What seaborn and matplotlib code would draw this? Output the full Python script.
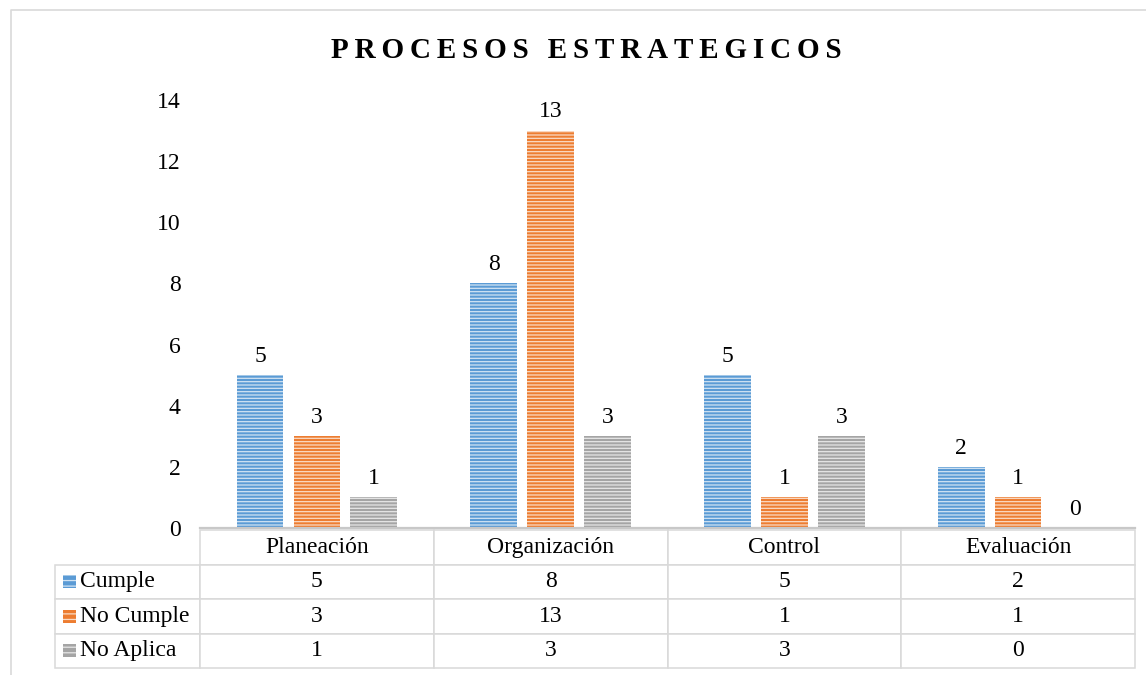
import numpy as np
import pandas as pd
import matplotlib
matplotlib.use("Agg")
import matplotlib.pyplot as plt
import seaborn as sns
from matplotlib.patches import Rectangle
from matplotlib.lines import Line2D
from matplotlib.colors import to_rgb

# ---------------- data ----------------
categories = ["Planeación", "Organización", "Control", "Evaluación"]
series = ["Cumple", "No Cumple", "No Aplica"]
cumple = [5, 8, 5, 2]
no_cumple = [3, 13, 1, 1]
no_aplica = [1, 3, 3, 0]
yticks = [0, 2, 4, 6, 8, 10, 12, 14]
title = "PROCESOS ESTRATEGICOS"
colors = ["#5B9BD5", "#ED7D31", "#A5A5A5"]

values = [cumple, no_cumple, no_aplica]
df = pd.DataFrame(
    [(c, s, v) for s, vals in zip(series, values) for c, v in zip(categories, vals)],
    columns=["Categoria", "Serie", "Valor"],
)

# ---------------- style ----------------
sns.set_theme(style="white")
plt.rcParams["font.family"] = ["Liberation Serif", "DejaVu Serif"]
plt.rcParams["hatch.linewidth"] = 0.9
plt.rcParams["text.color"] = "black"
plt.rcParams["ytick.color"] = "black"
plt.rcParams["xtick.color"] = "black"
FS = 17


def tint(c, f=0.72):
    r, g, b = to_rgb(c)
    return (r + (1 - r) * f, g + (1 - g) * f, b + (1 - b) * f)


W, H = 1146, 675
fig = plt.figure(figsize=(W / 100, H / 100), dpi=100)
L, R, T, B = 200, 1135, 100, 528
ax = fig.add_axes([L / W, 1 - B / H, (R - L) / W, (B - T) / H])

sns.barplot(
    data=df, x="Categoria", y="Valor", hue="Serie",
    order=categories, hue_order=series, palette=colors,
    width=0.73, gap=0.18, saturation=1, legend=False, ax=ax,
)

HATCH = "-----"
for i, cont in enumerate(ax.containers):
    for p in cont:
        p.set_hatch(HATCH)
        p.set_edgecolor(tint(colors[i]))
        p.set_linewidth(0)
    ax.bar_label(cont, padding=6, fontsize=FS, color="black")

ax.set_ylim(0, 14)
ax.set_yticks(yticks)
ax.set_xlabel("")
ax.set_ylabel("")
ax.set_xticks([])
ax.tick_params(axis="y", length=0, pad=14, labelsize=FS, labelcolor="black")
for s in ["left", "top", "right"]:
    ax.spines[s].set_visible(False)
ax.spines["bottom"].set_color("#C8C8C8")
ax.spines["bottom"].set_linewidth(1.6)

# ---------------- data table ----------------
tL, tR, tT, tB = 55, 1135, 530, 668
aw, ah = R - L, B - T
bbox = [(tL - L) / aw, -(tB - B) / ah, (tR - tL) / aw, (tB - tT) / ah]
col_w = [145] + [(tR - 200) / 4] * 4
col_w = [w / sum(col_w) for w in col_w]
cell_text = [[s] + [str(v) for v in vals] for s, vals in zip(series, values)]
tbl = ax.table(cellText=cell_text, colLabels=[""] + categories, cellLoc="center",
               colWidths=col_w, bbox=bbox)
tbl.auto_set_font_size(False)
tbl.set_fontsize(FS)
for (r, c), cell in tbl.get_celld().items():
    cell.set_edgecolor("#D9D9D9")
    cell.set_linewidth(1.1)
    cell.set_facecolor("white")
    cell.get_text().set_color("black")
    if c == 0 and r > 0:
        cell._loc = "left"
        cell.PAD = 0.17
        cell.get_text().set_horizontalalignment("left")
tbl[0, 0].visible_edges = ""

# legend keys in table row labels
row_h = (tB - tT) / 4
for i, col in enumerate(colors):
    cy = tT + row_h * (i + 1.5)
    k = 13
    x0 = (63 - L) / aw
    y0 = -(cy + k / 2 - B) / ah
    ax.add_patch(Rectangle((x0, y0), k / aw, k / ah, transform=ax.transAxes,
                           facecolor=col, edgecolor=tint(col), linewidth=0,
                           hatch="---", clip_on=False))

# ---------------- title & border ----------------
fig.text(586 / W, 1 - 51 / H, "\u2009".join(title), ha="center", va="center",
         fontsize=21, fontweight="bold", color="black")
fig.add_artist(Line2D([11 / W, 11 / W, 1], [0, 1 - 10 / H, 1 - 10 / H],
                      transform=fig.transFigure, color="#D9D9D9", linewidth=1.2))

fig.savefig("out.png", dpi=100)
